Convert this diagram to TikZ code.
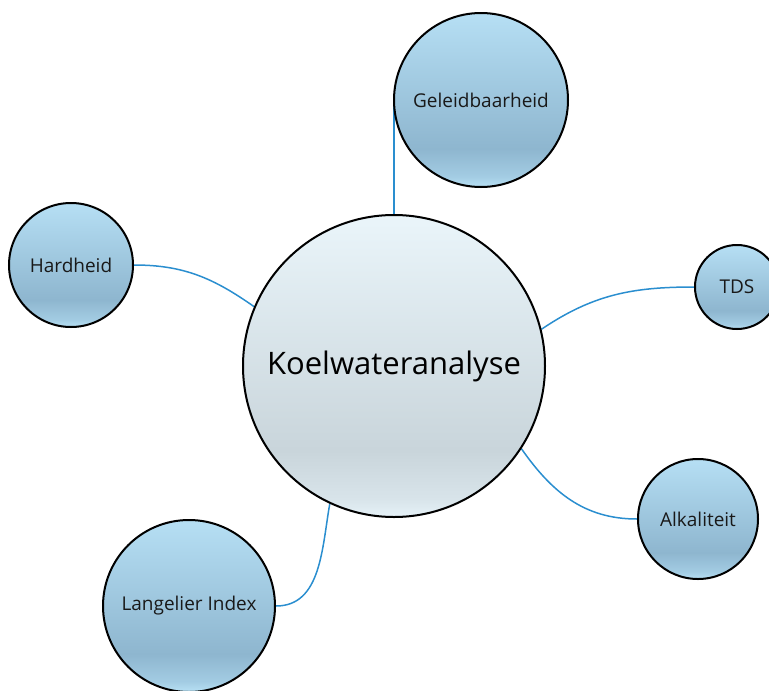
\documentclass[tikz,border=0pt]{standalone}
\usepackage{fontspec}
\setmainfont{Open Sans}
\usetikzlibrary{backgrounds}

\definecolor{bbTop}{HTML}{B6DFF4}
\definecolor{bbDark}{HTML}{8EB6CF}
\definecolor{bbLow}{HTML}{A3CCE3}
\definecolor{bbBot}{HTML}{B8E1F5}
\definecolor{bgTop}{HTML}{EAF5FA}
\definecolor{bgDark}{HTML}{C9D5DB}
\definecolor{bgLow}{HTML}{D8E4EA}
\definecolor{bgBot}{HTML}{E6F2F8}
\definecolor{linkblue}{HTML}{2A8ECF}

% vertical fills: the path is fitted into 25bp..75bp (bottom..top)
\pgfdeclareverticalshading{bubbleblue}{100bp}{%
  color(0bp)=(bbBot); color(25bp)=(bbBot); color(28bp)=(bbLow);
  color(36bp)=(bbDark); color(75bp)=(bbTop); color(100bp)=(bbTop)}
\pgfdeclareverticalshading{bubblegrey}{100bp}{%
  color(0bp)=(bgBot); color(25bp)=(bgBot); color(28bp)=(bgLow);
  color(36bp)=(bgDark); color(75bp)=(bgTop); color(100bp)=(bgTop)}

\tikzset{
  bubble/.style={circle, draw=black, line width=2pt, inner sep=0pt,
    shading=bubbleblue, text=black!90,
    font=\fontsize{19}{22}\selectfont},
  hub/.style={circle, draw=black, line width=2pt, inner sep=0pt,
    shading=bubblegrey, text=black,
    font=\fontsize{31}{36}\selectfont},
  link/.style={draw=linkblue, line width=1.5pt},
}

\begin{document}
\begin{tikzpicture}[x=1pt, y=-1pt]
  \useasboundingbox (0,0) rectangle (769,691);

  % hub and topic bubbles
  \node[hub, minimum size=302pt] (main) at (394,366) {Koelwateranalyse};
  \node[bubble, minimum size=174pt] (geleid) at (481,100) {Geleidbaarheid};
  \node[bubble, minimum size=124pt] (hard) at (71,265) {Hardheid};
  \node[bubble, minimum size=84pt] (tds) at (737,287) {TDS};
  \node[bubble, minimum size=120pt] (alk) at (698,519) {Alkaliteit};
  \node[bubble, minimum size=172pt] (lang) at (189,606) {Langelier Index};

  % connectors, kept behind the bubbles
  \begin{scope}[on background layer]
    \draw[link] (main.north) -- (main.north |- geleid.west);
    \draw[link] (hard.east) to[out=0, in=145] (main.157);
    \draw[link] (main.14) to[out=34, in=180] (tds.west);
    \draw[link] (main.-33) to[out=-55, in=180] (alk.west);
    \draw[link] (main.-115) to[out=-100, in=0] (lang.east);
  \end{scope}
\end{tikzpicture}
\end{document}
